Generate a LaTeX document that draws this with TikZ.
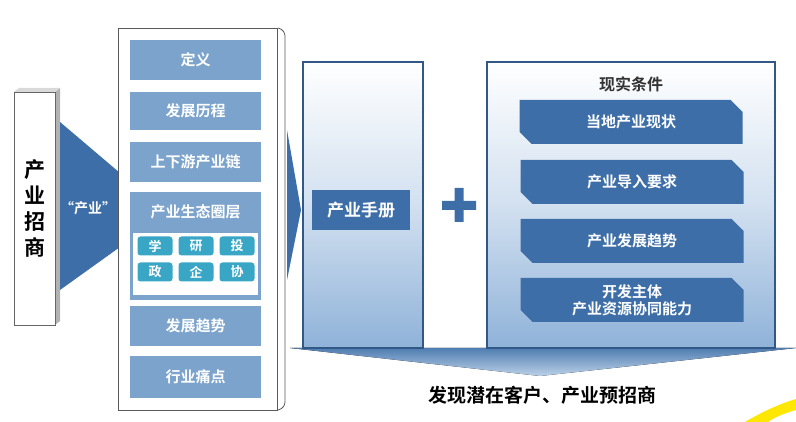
\documentclass[tikz,border=0pt]{standalone}
\usepackage{fontspec}
\setmainfont{Noto Sans CJK SC Bold}
\usetikzlibrary{positioning,shapes.misc,decorations.pathreplacing}
\definecolor{itemblue}{HTML}{7BA3CC}
\definecolor{darkblue}{HTML}{3D6EA8}
\definecolor{cellteal}{HTML}{3AA6C6}
\definecolor{panelblue}{HTML}{8FB2D9}

\begin{document}
\begin{tikzpicture}
			[x=1pt,y=-1pt,
			item/.style={fill=itemblue,text=white,minimum width=131pt,minimum height=40pt,inner sep=0pt,font=\fontsize{15}{17}\selectfont},
			cell/.style={fill=cellteal,text=white,rounded corners=3pt,minimum width=35pt,minimum height=19pt,inner sep=0pt,font=\fontsize{13}{15}\selectfont},
			cond/.style={chamfered rectangle,chamfered rectangle corners={north east,south west},chamfered rectangle xsep=6pt,chamfered rectangle ysep=6pt,fill=darkblue,text=white,minimum width=223pt,minimum height=44pt,inner sep=0pt,align=center,font=\fontsize{15}{17}\selectfont},
			panel/.style={draw=darkblue!80!black,line width=1.2pt,top color=white,bottom color=panelblue,middle color=white!60!panelblue,inner sep=0pt}]
			\useasboundingbox (0,0) rectangle (796,422);
			
			% left bar
			\fill [gray!60] (55,92) -- (60,88) -- (60,321) -- (55,325) -- cycle;
			\fill [gray!30] (14,92) -- (19,88) -- (60,88) -- (55,92) -- cycle;
			\node (bar) [draw=gray!80!black,fill=white,minimum width=41pt,minimum height=233pt,inner sep=0pt] at (34.5,208.5) {};
			\node (barlabel) [align=center,font=\fontsize{21}{26}\selectfont] at (bar) {产\\业\\招\\商};
			
			% funnel
			\fill [darkblue] (60,122) -- (120,173) -- (120,247) -- (60,290) -- cycle;
			\node (quote) [text=white,font=\fontsize{14}{16}\selectfont] at (88,208) {“产业”};
			
			% column
			\node (col) [draw=gray!70!black,fill=white,minimum width=159pt,minimum height=382pt,inner sep=0pt] at (197.5,219) {};
			\node (dy) [item] at (195.5,60) {定义};
			\node (lc) [item,minimum height=38pt] at (195.5,111) {发展历程};
			\node (chain) [item] at (195.5,162) {上下游产业链};
			\node (eco) [fill=itemblue,minimum width=131pt,minimum height=108pt,inner sep=0pt] at (195.5,246) {};
			\node (ecot) [text=white,font=\fontsize{15}{17}\selectfont] at (195.5,212) {产业生态圈层};
			\node (grid) [fill=white,minimum width=125pt,minimum height=62pt,inner sep=0pt] at (195.5,264) {};
			\node (c1) [cell] at (155,246) {学};
			\node (c2) [cell] at (196,246) {研};
			\node (c3) [cell] at (237,246) {投};
			\node (c4) [cell] at (155,272) {政};
			\node (c5) [cell] at (196,272) {企};
			\node (c6) [cell] at (237,272) {协};
			\node (trend) [item] at (195.5,326) {发展趋势};
			\node (pain) [item,minimum height=42pt] at (195.5,377) {行业痛点};
			
			% brace and arrow
			\draw [gray!70!black,thick,rounded corners=6pt] (278,28) -- (285,30) -- (285,408) -- (278,410);
			\fill [darkblue] (287,130) -- (301,210) -- (287,280) -- cycle;
			
			% bottom arrow
			\fill [top color=darkblue!90,bottom color=panelblue!60] (290,348) -- (796,348) -- (540,376) -- cycle;
			\node (result) [font=\fontsize{19}{22}\selectfont] at (542,395) {发现潜在客户、产业预招商};
			
			% handbook
			\node (book) [panel,minimum width=120pt,minimum height=286pt] at (363,205) {};
			\node (booklabel) [fill=darkblue,text=white,minimum width=98pt,minimum height=40pt,inner sep=0pt,font=\fontsize{17}{19}\selectfont] at (361,210) {产业手册};
			\fill [darkblue] (442,201) rectangle (476,210) (454.5,188) rectangle (463.5,222);
			
			% conditions
			\node (cond) [panel,minimum width=288pt,minimum height=286pt] at (631,205) {};
			\node (condtitle) [text=black!80,font=\fontsize{16}{18}\selectfont] at (631,84) {现实条件};
			\node (k1) [cond] at (631,122) {当地产业现状};
			\node (k2) [cond] at (632,182) {产业导入要求};
			\node (k3) [cond] at (632,241) {产业发展趋势};
			\node (k4) [cond] at (632,300) {开发主体\\产业资源协同能力};
			
			% corner swoosh
			\fill [yellow!90!orange] (745,422) .. controls (765,410) and (785,402) .. (796,399) -- (796,410) .. controls (785,413) and (775,417) .. (768,422) -- cycle;
\end{tikzpicture}
\end{document}
